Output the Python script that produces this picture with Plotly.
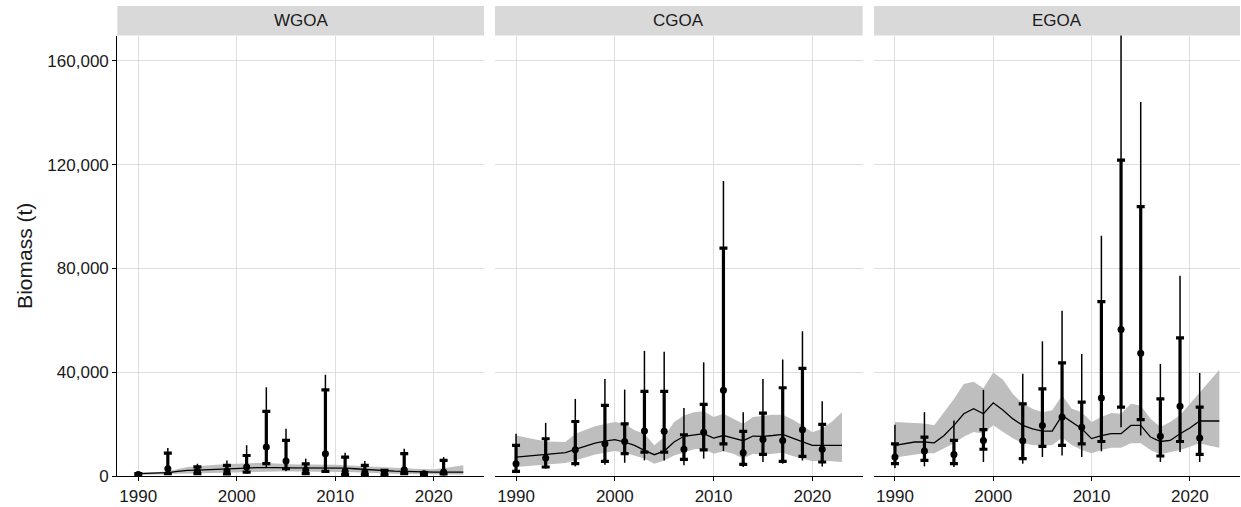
import plotly.graph_objects as go

years = list(range(1990, 2024))
regions = ["WGOA", "CGOA", "EGOA"]

# Model fit (line) and ribbon
wgoa_fit = [900, 1000, 1150, 1300, 1800, 2200, 2300, 2400, 2500, 2600, 2800, 3000, 3200, 3300, 3200, 3100, 3100,
            3100, 3100, 3200, 3100, 3000, 2800, 2500, 2200, 1900, 1850, 1800, 1800, 1600, 1500, 1500, 1500, 1500]
wgoa_up = [1200, 1300, 1500, 1800, 2700, 3500, 3800, 4100, 4400, 4600, 4700, 4900, 5000, 5000, 4800, 4400, 4400,
           4400, 4400, 4500, 4300, 4100, 3900, 3600, 3300, 3100, 3000, 2900, 2800, 2700, 2600, 3000, 3500, 4100]
wgoa_lo = [400, 450, 550, 650, 900, 1000, 1100, 1200, 1300, 1400, 1500, 1600, 1700, 1700, 1700, 1800, 1700,
           1700, 1700, 1700, 1500, 1500, 1400, 1200, 1000, 900, 850, 800, 800, 700, 640, 600, 550, 500]

cgoa_fit = [7300, 7600, 7900, 8200, 8600, 9000, 10250, 11500, 12700, 13400, 14000, 13100, 11800, 9900, 8200, 9600,
            13100, 15300, 15900, 16300, 14600, 15600, 14600, 13600, 15400, 15300, 15600, 16000, 14600, 13100, 11800,
            11800, 11800, 11800]
cgoa_up = [15600, 14800, 14000, 13300, 13200, 13100, 16300, 17800, 19200, 20000, 20800, 20100, 17600, 16300, 11800,
           15000, 20800, 23300, 24600, 24900, 22700, 24000, 22000, 20100, 22700, 23100, 23600, 23600, 21800, 19500,
           16900, 18200, 21000, 24600]
cgoa_lo = [3460, 3750, 4050, 4360, 4700, 5000, 6000, 7100, 8300, 9000, 9600, 9000, 7900, 6700, 4740, 6000, 7900,
           9200, 10300, 10500, 8600, 9500, 8600, 6700, 8600, 8200, 8600, 9000, 7700, 6700, 5640, 6000, 5600, 5400]

egoa_fit = [11800, 12400, 13100, 13100, 12800, 15600, 19500, 24000, 25900, 24000, 28200, 25300, 22000, 19500, 18200,
            17300, 17300, 23300, 20800, 18200, 14400, 15600, 16300, 16300, 19500, 19500, 15000, 13300, 13700, 16300,
            18500, 21200, 21200, 21200]
egoa_up = [20800, 20600, 20400, 20200, 19600, 24600, 29700, 35400, 36300, 33800, 39900, 37100, 31600, 27800, 25900,
           24600, 25300, 31000, 25900, 24600, 20800, 22700, 24300, 24000, 27800, 27200, 22100, 18900, 20800, 23400,
           27800, 32300, 36700, 40900]
egoa_lo = [7100, 7700, 8300, 8800, 8800, 10700, 12600, 15100, 17000, 16400, 19600, 17000, 14500, 12600, 11900, 11700,
           11900, 14700, 11900, 10000, 8800, 10000, 10900, 10900, 12600, 12600, 10000, 8400, 9100, 10000, 11300,
           12600, 11700, 10900]

# Survey observations
wgoa_yr = [1990, 1993, 1996, 1999, 2001, 2003, 2005, 2007, 2009, 2011, 2013, 2015, 2017, 2019, 2021]
wgoa_obs = [600, 2800, 1800, 1900, 3500, 11150, 5770, 2200, 8600, 1800, 1500, 1300, 2400, 900, 1500]
wgoa_in_hi = [900, 8800, 3500, 4100, 7900, 24900, 13700, 4700, 33200, 7300, 4100, 2200, 8600, 1300, 6000]
wgoa_in_lo = [400, 900, 900, 770, 1500, 4740, 2800, 900, 1800, 640, 640, 500, 900, 500, 770]
wgoa_out_hi = [1100, 10800, 4700, 6000, 11800, 34200, 18200, 6700, 39000, 9000, 5800, 2600, 10500, 1500, 7300]
wgoa_out_lo = [300, 600, 600, 500, 900, 3100, 1800, 600, 1300, 400, 400, 300, 600, 300, 500]

cgoa_yr = [1990, 1993, 1996, 1999, 2001, 2003, 2005, 2007, 2009, 2011, 2013, 2015, 2017, 2019, 2021]
cgoa_obs = [4740, 6900, 10100, 12400, 13300, 17300, 17200, 10260, 16900, 33000, 9000, 14100, 13700, 17800, 10260]
cgoa_in_hi = [11800, 14360, 21000, 27200, 20100, 32600, 32600, 15900, 27600, 87800, 17200, 24200, 34000, 41500, 19900]
cgoa_in_lo = [1800, 3460, 4740, 5640, 8600, 9230, 9230, 6400, 10100, 12400, 4500, 8300, 5640, 7560, 5400]
cgoa_out_hi = [16300, 20500, 29700, 37400, 33300, 48200, 47900, 26200, 43800, 113700, 24600, 37400, 44900, 55800, 28800]
cgoa_out_lo = [1500, 2800, 3700, 4360, 5100, 6000, 6000, 4100, 6700, 9600, 3460, 5400, 4700, 6000, 3700]

egoa_yr = [1990, 1993, 1996, 1999, 2003, 2005, 2007, 2009, 2011, 2013, 2015, 2017, 2019, 2021]
egoa_obs = [7300, 9600, 8300, 13700, 13600, 19500, 22700, 18800, 30100, 56400, 47300, 15300, 26900, 14600]
egoa_in_hi = [12400, 15000, 13700, 17900, 27800, 33600, 43600, 28500, 67200, 121700, 103800, 29700, 53200, 26500]
egoa_in_lo = [4740, 6000, 4740, 10300, 6700, 11400, 11800, 12400, 13300, 26500, 21700, 7700, 13300, 8300]
egoa_out_hi = [19700, 24600, 21400, 33200, 39400, 51900, 63700, 47000, 92600, 200000, 144100, 43200, 77200, 39700]
egoa_out_lo = [3100, 3700, 3460, 5400, 4740, 7300, 7900, 7300, 9500, 18800, 15600, 5400, 9200, 5400]

y_ticks = [0, 40000, 80000, 120000, 160000]
y_tick_text = ["0", "40,000", "80,000", "120,000", "160,000"]
x_ticks = [1990, 2000, 2010, 2020]

panels = [
    (wgoa_fit, wgoa_up, wgoa_lo, wgoa_yr, wgoa_obs, wgoa_in_hi, wgoa_in_lo, wgoa_out_hi, wgoa_out_lo),
    (cgoa_fit, cgoa_up, cgoa_lo, cgoa_yr, cgoa_obs, cgoa_in_hi, cgoa_in_lo, cgoa_out_hi, cgoa_out_lo),
    (egoa_fit, egoa_up, egoa_lo, egoa_yr, egoa_obs, egoa_in_hi, egoa_in_lo, egoa_out_hi, egoa_out_lo),
]

W, H = 1241, 507
ml, mr, mt, mb = 117, 1, 6, 29
pw = W - ml - mr
ph = H - mt - mb
px_left = [117.3, 495.0, 874.0]
px_right = [484.0, 862.7, 1240.0]
domains = [[(a - ml) / pw, (b - ml) / pw] for a, b in zip(px_left, px_right)]
plot_top = (478 - 35.7) / ph

fig = go.Figure()
shapes = []
annotations = []
for i, (fit, up, lo, yr, obs, ihi, ilo, ohi, olo) in enumerate(panels):
    xa = "x" if i == 0 else f"x{i+1}"
    ya = "y" if i == 0 else f"y{i+1}"
    fig.add_trace(go.Scatter(x=years, y=lo, mode="lines", line=dict(width=0), xaxis=xa, yaxis=ya,
                             showlegend=False, hoverinfo="skip"))
    fig.add_trace(go.Scatter(x=years, y=up, mode="lines", line=dict(width=0), fill="tonexty",
                             fillcolor="#BEBEBE", xaxis=xa, yaxis=ya, showlegend=False, hoverinfo="skip"))
    fig.add_trace(go.Scatter(x=years, y=fit, mode="lines", line=dict(color="black", width=1.3),
                             xaxis=xa, yaxis=ya, showlegend=False))
    fig.add_trace(go.Scatter(
        x=yr, y=obs, mode="markers", marker=dict(size=0.1, color="rgba(0,0,0,0)"),
        error_y=dict(type="data", symmetric=False,
                     array=[h - o for h, o in zip(ohi, obs)],
                     arrayminus=[o - l for o, l in zip(obs, olo)],
                     color="black", thickness=1.5, width=0),
        xaxis=xa, yaxis=ya, showlegend=False))
    fig.add_trace(go.Scatter(
        x=yr, y=obs, mode="markers", marker=dict(size=7, color="black"),
        error_y=dict(type="data", symmetric=False,
                     array=[h - o for h, o in zip(ihi, obs)],
                     arrayminus=[o - l for o, l in zip(obs, ilo)],
                     color="black", thickness=3.2, width=4),
        xaxis=xa, yaxis=ya, showlegend=False))

    shapes.append(dict(type="rect", xref="paper", yref="paper", x0=domains[i][0], x1=domains[i][1],
                       y0=plot_top, y1=1.0, fillcolor="#D9D9D9", line=dict(width=0), layer="below"))
    annotations.append(dict(text=regions[i], xref="paper", yref="paper", x=(domains[i][0] + domains[i][1]) / 2,
                            y=(plot_top + 1) / 2, showarrow=False, xanchor="center", yanchor="middle",
                            font=dict(size=17, color="#1A1A1A")))

    xkey = "xaxis" if i == 0 else f"xaxis{i+1}"
    ykey = "yaxis" if i == 0 else f"yaxis{i+1}"
    fig.layout[xkey] = dict(domain=domains[i], anchor=ya, range=[1987.87, 2025.1], tickvals=x_ticks,
                            showgrid=True, gridcolor="#DEDEDE", gridwidth=1, zeroline=False,
                            showline=True, linecolor="black", linewidth=1.2,
                            ticks="outside", ticklen=4, tickcolor="black", tickwidth=1,
                            tickfont=dict(size=17, color="#1A1A1A"))
    fig.layout[ykey] = dict(domain=[0, plot_top], anchor=xa, range=[0, 169700], tickvals=y_ticks,
                            ticktext=y_tick_text, showgrid=True, gridcolor="#DEDEDE", gridwidth=1,
                            zeroline=False, showline=(i == 0), linecolor="black", linewidth=1.2,
                            ticks="outside" if i == 0 else "", ticklen=4, tickcolor="black",
                            showticklabels=(i == 0), tickfont=dict(size=17, color="#1A1A1A"),
                            **({} if i == 0 else {"matches": "y"}))

fig.layout.yaxis.title = dict(text="Biomass (t)", font=dict(size=21, color="#1A1A1A"), standoff=8)

fig.update_layout(
    width=W, height=H, margin=dict(l=ml, r=mr, t=mt, b=mb),
    paper_bgcolor="white", plot_bgcolor="white",
    font=dict(family="Liberation Sans, Arial, sans-serif", color="#1A1A1A"),
    shapes=shapes, annotations=annotations, showlegend=False,
)

fig.write_html("out.html")
